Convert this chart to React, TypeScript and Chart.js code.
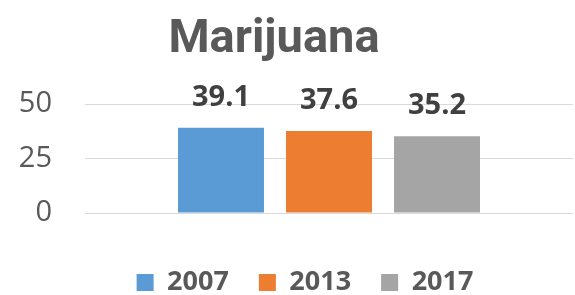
import { useEffect, useRef } from 'react';
import { Chart, registerables } from 'chart.js';

Chart.register(...registerables);

const chartTitle = 'Marijuana';
const categories = [''];
const seriesLabels = ['2007', '2013', '2017'];
const seriesValues = [[39.1], [37.6], [35.2]];
const seriesColors = ['#5B9BD5', '#ED7D31', '#A5A5A5'];
const yMin = 0;
const yMax = 50;
const yStep = 25;

const TITLE_DX = -22;
const LEGEND_DX = 9;
const LEGEND_DY = 11;

const shiftPlugin = {
  id: 'shiftBoxes',
  afterLayout(chart: any) {
    const t = chart.titleBlock;
    if (t) {
      t.left += TITLE_DX;
      t.right += TITLE_DX;
    }
    const l = chart.legend;
    if (l) {
      l.left += LEGEND_DX;
      l.right += LEGEND_DX;
      l.top += LEGEND_DY;
      l.bottom += LEGEND_DY;
    }
  },
};

const valueLabelPlugin = {
  id: 'valueLabels',
  afterDatasetsDraw(chart: any) {
    const ctx = chart.ctx;
    ctx.save();
    ctx.font = 'bold 29px "Open Sans"';
    ctx.fillStyle = '#404040';
    ctx.textAlign = 'center';
    ctx.textBaseline = 'alphabetic';
    chart.data.datasets.forEach((ds: any, i: number) => {
      const meta = chart.getDatasetMeta(i);
      meta.data.forEach((el: any, j: number) => {
        const v = ds.data[j];
        ctx.fillText(v.toFixed(1), el.x, el.y - 22);
      });
    });
    ctx.restore();
  },
};

export default function App() {
  const ref = useRef<HTMLCanvasElement | null>(null);
  useEffect(() => {
    document.body.style.margin = '0';
    if (!ref.current) return;
    const chart = new Chart(ref.current, {
      type: 'bar',
      data: {
        labels: categories,
        datasets: seriesLabels.map((label, i) => ({
          label,
          data: seriesValues[i],
          backgroundColor: seriesColors[i],
          borderWidth: 0,
          categoryPercentage: 0.664,
          barPercentage: 0.796,
        })),
      },
      options: {
        responsive: false,
        animation: false,
        layout: { padding: { left: 19, right: 2, top: 0, bottom: 0 } },
        plugins: {
          title: {
            display: true,
            text: chartTitle,
            color: '#595959',
            font: { family: 'Roboto', size: 47, weight: 'bold', lineHeight: 1 },
            padding: { top: 17, bottom: 40 },
          },
          legend: {
            display: true,
            position: 'bottom',
            labels: {
              boxWidth: 17,
              boxHeight: 17,
              padding: 30,
              color: '#595959',
              font: { family: 'Open Sans', size: 27, weight: 'bold' },
            },
          },
          tooltip: { enabled: false },
        },
        scales: {
          x: {
            grid: { display: false },
            border: { display: false },
            ticks: { display: false },
            afterFit: (scale: any) => {
              scale.height = 15;
            },
          },
          y: {
            min: yMin,
            max: yMax,
            ticks: {
              stepSize: yStep,
              padding: 33,
              color: '#595959',
              font: { family: 'Open Sans', size: 29 },
            },
            grid: { color: '#D9D9D9', lineWidth: 1, drawTicks: false },
            border: { display: false },
            afterFit: (scale: any) => {
              scale.width = 66;
            },
          },
        },
      },
      plugins: [shiftPlugin, valueLabelPlugin],
    });
    return () => chart.destroy();
  }, []);
  return (
    <div style={{ width: 575, height: 295 }}>
      <canvas ref={ref} width={575} height={295} />
    </div>
  );
}
